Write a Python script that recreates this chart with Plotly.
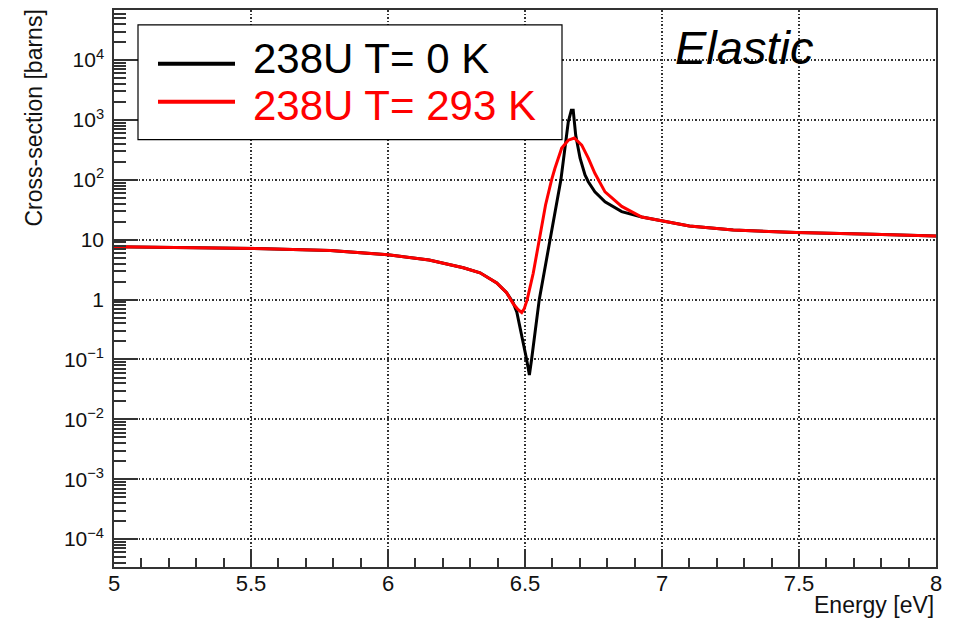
import plotly.graph_objects as go

# ---- data (Energy in eV, cross-section in barns) ----
energy_T0 = [5.00, 5.30, 5.55, 5.79, 6.00, 6.15, 6.275, 6.336, 6.397, 6.433, 6.457,
             6.470, 6.484, 6.506, 6.516, 6.524, 6.552, 6.591, 6.631, 6.658, 6.669,
             6.676, 6.685, 6.701, 6.719, 6.731, 6.755, 6.792, 6.853, 6.926,
             6.993, 7.10, 7.26, 7.49, 7.77, 8.00]
xs_T0 = [7.6, 7.4, 7.1, 6.6, 5.6, 4.6, 3.4, 2.8, 1.9, 1.3, 0.88,
         0.62, 0.31, 0.1, 0.055, 0.1, 1.0, 10, 100, 930, 1450,
         1450, 560, 230, 121, 93, 63, 43, 29.5, 24,
         21, 17, 14.5, 13.2, 12.3, 11.5]

energy_T293 = [5.00, 5.30, 5.55, 5.79, 6.00, 6.15, 6.275, 6.336, 6.397, 6.433, 6.457,
               6.475, 6.488, 6.497, 6.508, 6.530, 6.551, 6.575, 6.597, 6.609, 6.634,
               6.658, 6.680, 6.707, 6.731, 6.755, 6.792, 6.853, 6.926, 6.993, 7.10,
               7.26, 7.49, 7.77, 8.00]
xs_T293 = [7.6, 7.4, 7.1, 6.6, 5.6, 4.6, 3.4, 2.8, 1.9, 1.3, 0.85,
           0.68, 0.61, 0.70, 1.0, 2.75, 10, 38, 100, 155, 340,
           460, 500, 380, 230, 129, 63, 36, 24, 21, 17,
           14.5, 13.2, 12.3, 11.5]

legend_labels = ["238U T= 0 K", "238U T= 293 K"]
series_colors = ["#000000", "#ff0000"]

y_tickvals = [1e-4, 1e-3, 1e-2, 1e-1, 1, 10, 1e2, 1e3, 1e4]
y_ticktext = ["10<sup>\u22124</sup>", "10<sup>\u22123</sup>", "10<sup>\u22122</sup>",
              "10<sup>\u22121</sup>", "1", "10", "10<sup>2</sup>", "10<sup>3</sup>",
              "10<sup>4</sup>"]
y_minor_vals = [m * 10.0 ** e for e in range(-5, 5) for m in range(2, 10)]
x_tickvals = [5, 5.5, 6, 6.5, 7, 7.5, 8]
x_ticktext = ["5", "5.5", "6", "6.5", "7", "7.5", "8"]

FONT = "Liberation Sans, Arial, Helvetica, sans-serif"
# the page body has an 8px margin, so the figure is sized / offset to compensate
W, H = 956, 612
L, R, T, B = 106, 28, 0, 53
PLOT_X0, PLOT_X1 = 114, 936   # page pixel positions of the frame
PLOT_Y0, PLOT_Y1 = 8, 567


def px(xp):
    return (xp - PLOT_X0) / (PLOT_X1 - PLOT_X0)


def py(yp):
    return (PLOT_Y1 - yp) / (PLOT_Y1 - PLOT_Y0)


fig = go.Figure()
fig.add_trace(go.Scatter(x=energy_T0, y=xs_T0, mode="lines", name=legend_labels[0],
                         line=dict(color=series_colors[0], width=3)))
fig.add_trace(go.Scatter(x=energy_T293, y=xs_T293, mode="lines", name=legend_labels[1],
                         line=dict(color=series_colors[1], width=3)))

axis_color = "#333333"
grid_dash = "1.5px,2px"
fig.update_xaxes(
    range=[5, 8], tickvals=x_tickvals, ticktext=x_ticktext,
    ticks="inside", ticklen=18, tickwidth=1.5, tickcolor=axis_color,
    showline=True, linecolor=axis_color, linewidth=1.5, mirror=True,
    showgrid=True, gridcolor="#333333", griddash=grid_dash, gridwidth=1.5,
    minor=dict(ticks="inside", ticklen=9, dtick=0.1, tickcolor=axis_color,
               tickwidth=1.5, showgrid=False),
    tickfont=dict(family=FONT, size=22, color="#111111"),
    ticklabelstandoff=-4,
    zeroline=False,
)
fig.update_yaxes(
    type="log", range=[-4.466, 4.837], tickvals=y_tickvals, ticktext=y_ticktext,
    ticks="inside", ticklen=24, tickwidth=1.5, tickcolor=axis_color,
    showline=True, linecolor=axis_color, linewidth=1.5, mirror=True,
    showgrid=True, gridcolor="#333333", griddash=grid_dash, gridwidth=1.5,
    minor=dict(ticks="inside", ticklen=12, tickcolor=axis_color, tickwidth=1.5,
               tickmode="array", tickvals=y_minor_vals, showgrid=False),
    tickfont=dict(family=FONT, size=21, color="#111111"),
    ticklabelstandoff=4,
    zeroline=False,
)

shapes = [
    # legend box
    dict(type="rect", xref="paper", yref="paper", x0=px(138), x1=px(562),
         y0=py(138), y1=py(23), line=dict(color="#000000", width=1.2),
         fillcolor="white", layer="above"),
    dict(type="line", xref="paper", yref="paper", x0=px(158), x1=px(235),
         y0=py(62), y1=py(62), line=dict(color=series_colors[0], width=4),
         layer="above"),
    dict(type="line", xref="paper", yref="paper", x0=px(158), x1=px(235),
         y0=py(100), y1=py(100), line=dict(color=series_colors[1], width=4),
         layer="above"),
]

annotations = [
    dict(xref="paper", yref="paper", x=px(251), y=py(57), text=legend_labels[0],
         showarrow=False, xanchor="left", yanchor="middle",
         font=dict(family=FONT, size=42, color=series_colors[0])),
    dict(xref="paper", yref="paper", x=px(251), y=py(104), text=legend_labels[1],
         showarrow=False, xanchor="left", yanchor="middle",
         font=dict(family=FONT, size=42, color=series_colors[1])),
    dict(xref="paper", yref="paper", x=px(673), y=py(46), text="<i>Elastic</i>",
         showarrow=False, xanchor="left", yanchor="middle",
         font=dict(family=FONT, size=47, color="#000000")),
    dict(xref="paper", yref="paper", x=px(34), y=py(6), text="Cross-section [barns]",
         showarrow=False, xanchor="center", yanchor="top", textangle=-90,
         font=dict(family=FONT, size=23, color="#111111")),
    dict(xref="paper", yref="paper", x=px(936), y=py(605), text="Energy [eV]",
         showarrow=False, xanchor="right", yanchor="middle",
         font=dict(family=FONT, size=23, color="#111111")),
]

fig.update_layout(
    width=W, height=H,
    margin=dict(l=L, r=R, t=T, b=B, pad=0),
    paper_bgcolor="white", plot_bgcolor="white",
    showlegend=False,
    shapes=shapes, annotations=annotations,
    font=dict(family=FONT),
)

fig.write_html("out.html")
